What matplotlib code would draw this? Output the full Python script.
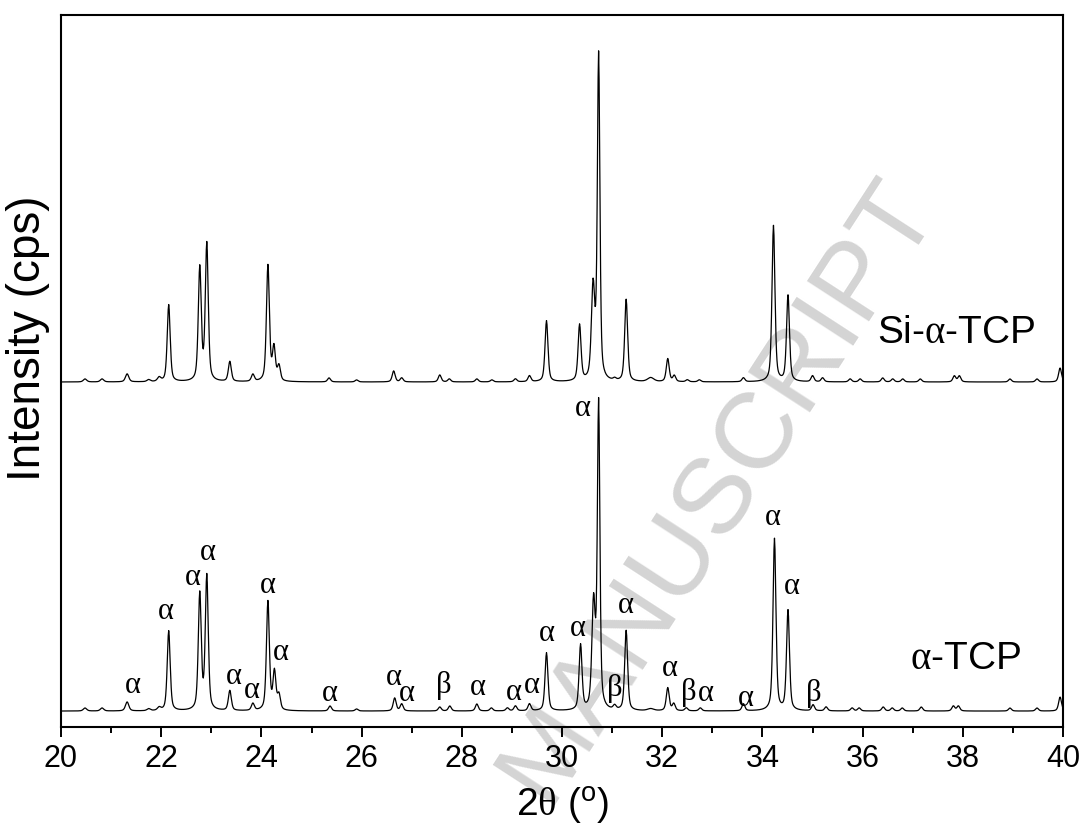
"""XRD patterns of alpha-TCP and Si-alpha-TCP (20-40 deg 2theta)."""
import numpy as np
import matplotlib
matplotlib.use("Agg")
import matplotlib.pyplot as plt

plt.rcParams["font.family"] = ["Liberation Sans", "DejaVu Sans"]
plt.rcParams["mathtext.fontset"] = "custom"
plt.rcParams["mathtext.rm"] = "Liberation Serif"
plt.rcParams["mathtext.it"] = "Liberation Serif"
plt.rcParams["mathtext.sf"] = "Liberation Sans"

# scan range
TWO_THETA_MIN = 20.0
TWO_THETA_MAX = 40.0
SCAN_STEP = 0.01

# alpha-TCP (lower pattern): reflections
atcp_pos = [20.48, 20.82, 21.32, 21.75, 21.96, 22.15, 22.77, 22.91, 23.37, 23.83,
            24.13, 24.26, 24.35, 25.37, 25.90, 26.66, 26.80, 27.56, 27.76, 28.30,
            28.59, 28.91, 29.07, 29.35, 29.69, 30.37, 30.63, 30.73, 31.05, 31.28,
            31.77, 32.11, 32.23, 32.48, 32.76, 33.62, 34.24, 34.51, 35.01, 35.27,
            35.79, 35.93, 36.41, 36.59, 36.79, 37.17, 37.81, 37.91, 38.94, 39.48, 39.94]
atcp_int = [3, 3, 9, 2, 3, 80, 116, 134, 20, 7,
            109, 38, 15, 5, 2, 13, 7, 4, 5, 7,
            3, 3, 5, 7, 58, 65, 105, 305, 4, 80,
            2, 23, 7, 3, 3, 7, 172, 100, 6, 4,
            3, 3, 4, 3, 3, 4, 5, 5, 3, 3, 14]
atcp_fwhm = [0.08] * 5 + [0.07] * 21 + [0.08, 0.06] + [0.07] * 2 + [0.15] + [0.07] * 21
atcp_background = 16

# Si-alpha-TCP (upper pattern)
si_pos = [20.48, 20.82, 21.32, 21.75, 21.96, 22.15, 22.77, 22.91, 23.37, 23.83,
          24.13, 24.25, 24.35, 25.35, 25.90, 26.64, 26.80, 27.56, 27.75, 28.30,
          28.60, 29.07, 29.35, 29.69, 30.35, 30.62, 30.73, 31.05, 31.28, 31.77,
          32.11, 32.24, 32.50, 32.74, 33.62, 34.22, 34.51, 35.00, 35.20, 35.75,
          35.95, 36.40, 36.60, 36.80, 37.15, 37.83, 37.93, 38.94, 39.48, 39.94]
si_int = [3, 3, 8, 2, 4, 77, 113, 137, 20, 7,
          116, 33, 15, 4, 2, 11, 4, 7, 3, 3,
          2, 3, 6, 61, 56, 92, 325, 2, 82, 4,
          23, 6, 2, 2, 4, 156, 86, 6, 4, 3,
          3, 4, 3, 3, 3, 6, 6, 3, 3, 14]
si_fwhm = [0.08] * 5 + [0.07] * 20 + [0.08, 0.06, 0.07, 0.07, 0.15] + [0.07] * 20
si_background = 345

# phase labels on the alpha-TCP pattern: (2theta, height, phase)
peak_label_x = [21.43, 22.09, 22.63, 22.94, 23.44, 23.80, 24.12, 24.39, 25.37,
                26.65, 26.91, 27.64, 28.31, 29.04, 29.39, 29.70, 30.32, 30.41,
                31.05, 31.27, 32.16, 32.53, 32.86, 33.66, 34.21, 34.59, 35.02]
peak_label_y = [42, 116, 150, 175, 51, 37, 142, 75, 34,
                50, 34, 42, 40, 35, 42, 94, 99, 319,
                39, 122, 59, 35, 34, 29, 210, 141, 34]
peak_label_phase = ["α", "α", "α", "α", "α", "α", "α", "α", "α",
                    "α", "α", "β", "α", "α", "α", "α", "α", "α",
                    "β", "α", "α", "β", "α", "α", "α", "α", "β"]


def pattern(positions, heights, widths, background):
    tt = np.arange(TWO_THETA_MIN, TWO_THETA_MAX + SCAN_STEP / 2, SCAN_STEP)
    y = np.full_like(tt, float(background))
    for p, h, w in zip(positions, heights, widths):
        u = ((tt - p) / (w / 2.0)) ** 2
        y += h * (0.5 / (1.0 + u) + 0.5 * np.exp(-np.log(2) * u))
    return tt, y


fig = plt.figure(figsize=(10.87, 8.30), dpi=100)
ax = fig.add_axes([0.0561, 0.124, 0.9219, 0.858])
ax.set_facecolor("none")

tt, y_low = pattern(atcp_pos, atcp_int, atcp_fwhm, atcp_background)
_, y_up = pattern(si_pos, si_int, si_fwhm, si_background)
ax.plot(tt, y_low, color="black", linewidth=0.9)
ax.plot(tt, y_up, color="black", linewidth=0.9)

for x, y, s in zip(peak_label_x, peak_label_y, peak_label_phase):
    ax.text(x, y, s, ha="center", va="center", fontsize=22, family="Liberation Serif")

ax.text(0.893, 0.553, r"Si-$\alpha$-TCP", transform=ax.transAxes, ha="center", va="center", fontsize=28)
ax.text(0.903, 0.096, r"$\alpha$-TCP", transform=ax.transAxes, ha="center", va="center", fontsize=28)

ax.set_xlim(TWO_THETA_MIN, TWO_THETA_MAX)
ax.set_ylim(0, 712)
ax.set_xticks(np.arange(20, 41, 2))
ax.set_xticks(np.arange(21, 40, 2), minor=True)
ax.set_yticks([])
ax.tick_params(axis="x", which="major", direction="out", length=7.5, width=1.4, labelsize=22, pad=5)
ax.tick_params(axis="x", which="minor", direction="out", length=4, width=1.4)
for sp in ax.spines.values():
    sp.set_linewidth(1.5)

ax.set_xlabel(r"2$\theta$ ($^{\mathsf{o}}$)", fontsize=28, labelpad=8)
ax.set_ylabel("Intensity (cps)", fontsize=33)
ax.yaxis.set_label_coords(-0.011, 0.546)

# watermark behind everything
fig.text(0.66, 0.41, "MANUSCRIPT", rotation=57, ha="center", va="center",
         fontsize=78, color="#d4d4d4", zorder=-5)

fig.savefig("out.png", dpi=100)
